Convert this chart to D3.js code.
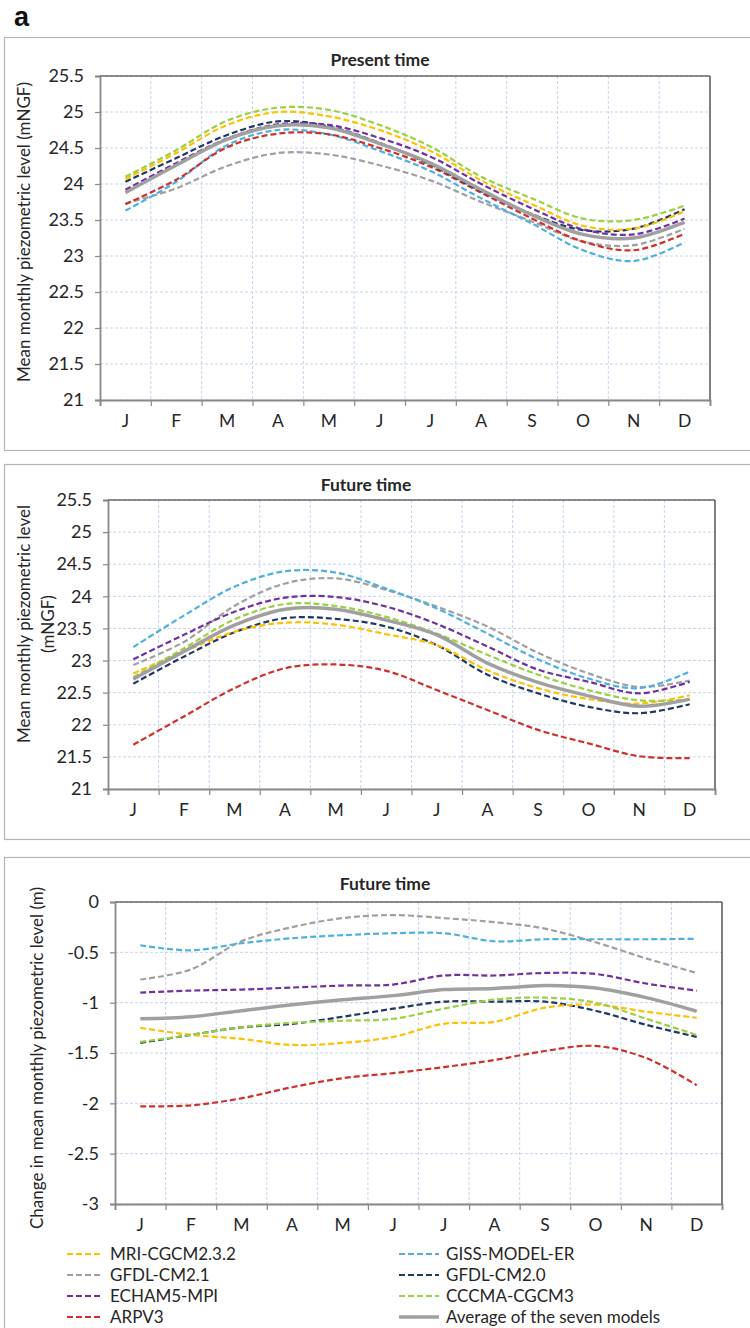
<html>
<script src='https://d3js.org/d3.v7.min.js'></script>
<style>
  body { margin: 0; background: #fff; }
  text { font-family: Lato, 'Open Sans', sans-serif; fill: #262626; }
</style>
<body>
<div id='vis'></div>
<script>
// months on the x axis
const months = ['J', 'F', 'M', 'A', 'M', 'J', 'J', 'A', 'S', 'O', 'N', 'D'];
const models = ['MRI-CGCM2.3.2', 'GISS-MODEL-ER', 'GFDL-CM2.1', 'GFDL-CM2.0', 'ECHAM5-MPI', 'CCCMA-CGCM3', 'ARPV3', 'Average of the seven models'];
const colors = ['#ffc000', '#4fb0e0', '#a0a0a0', '#1f3864', '#7030a0', '#9bd13f', '#d0302a', '#a0a0a0'];

// present time (mNGF)
const presMRI   = [24.07, 24.43, 24.82, 25.00, 24.94, 24.75, 24.46, 24.05, 23.72, 23.42, 23.38, 23.62];
const presGISS  = [23.63, 24.03, 24.54, 24.75, 24.69, 24.46, 24.18, 23.80, 23.45, 23.08, 22.93, 23.19];
const presGF21  = [23.73, 23.94, 24.25, 24.43, 24.41, 24.26, 24.05, 23.75, 23.48, 23.20, 23.15, 23.38];
const presGF20  = [24.03, 24.36, 24.68, 24.87, 24.80, 24.57, 24.27, 23.90, 23.58, 23.36, 23.38, 23.65];
const presECH   = [23.92, 24.29, 24.63, 24.83, 24.82, 24.64, 24.38, 24.00, 23.66, 23.37, 23.30, 23.52];
const presCCC   = [24.10, 24.47, 24.88, 25.06, 25.03, 24.82, 24.52, 24.10, 23.80, 23.52, 23.50, 23.70];
const presARP   = [23.72, 24.06, 24.51, 24.70, 24.69, 24.50, 24.24, 23.88, 23.52, 23.20, 23.08, 23.31];
const presAvg   = [23.88, 24.26, 24.62, 24.81, 24.78, 24.56, 24.29, 23.92, 23.57, 23.30, 23.25, 23.47];

// future time (mNGF)
const futMRI    = [22.80, 23.14, 23.45, 23.59, 23.56, 23.41, 23.24, 22.85, 22.57, 22.40, 22.33, 22.46];
const futGISS   = [23.21, 23.70, 24.15, 24.39, 24.37, 24.12, 23.81, 23.42, 23.02, 22.72, 22.57, 22.83];
const futGF21   = [22.93, 23.29, 23.85, 24.20, 24.28, 24.10, 23.84, 23.53, 23.12, 22.80, 22.59, 22.69];
const futGF20   = [22.64, 23.06, 23.44, 23.66, 23.65, 23.53, 23.24, 22.78, 22.49, 22.28, 22.18, 22.32];
const futECH    = [23.02, 23.40, 23.76, 23.98, 23.99, 23.84, 23.57, 23.22, 22.86, 22.67, 22.49, 22.67];
const futCCC    = [22.74, 23.19, 23.64, 23.88, 23.85, 23.68, 23.42, 23.09, 22.78, 22.54, 22.38, 22.39];
const futARP    = [21.69, 22.13, 22.57, 22.88, 22.94, 22.84, 22.54, 22.23, 21.92, 21.71, 21.51, 21.48];
const futAvg    = [22.71, 23.14, 23.55, 23.80, 23.80, 23.63, 23.40, 22.96, 22.66, 22.45, 22.29, 22.40];

// change future - present (m)
const chgMRI    = [-1.25, -1.32, -1.36, -1.42, -1.40, -1.34, -1.21, -1.19, -1.05, -1.02, -1.09, -1.15];
const chgGISS   = [-0.43, -0.48, -0.41, -0.36, -0.33, -0.31, -0.31, -0.39, -0.37, -0.37, -0.37, -0.365];
const chgGF21   = [-0.77, -0.67, -0.39, -0.25, -0.16, -0.13, -0.16, -0.20, -0.265, -0.40, -0.56, -0.705];
const chgGF20   = [-1.40, -1.32, -1.245, -1.21, -1.14, -1.06, -0.99, -0.99, -0.99, -1.08, -1.22, -1.34];
const chgECH    = [-0.90, -0.88, -0.87, -0.85, -0.83, -0.82, -0.73, -0.73, -0.705, -0.715, -0.81, -0.88];
const chgCCC    = [-1.39, -1.32, -1.245, -1.20, -1.18, -1.16, -1.06, -0.97, -0.95, -1.00, -1.16, -1.32];
const chgARP    = [-2.03, -2.02, -1.95, -1.84, -1.75, -1.70, -1.64, -1.57, -1.48, -1.43, -1.55, -1.82];
const chgAvg    = [-1.16, -1.14, -1.08, -1.02, -0.97, -0.93, -0.87, -0.86, -0.83, -0.855, -0.95, -1.085];

const yTicksLevel = [21, 21.5, 22, 22.5, 23, 23.5, 24, 24.5, 25, 25.5];
const yTicksChange = [-3, -2.5, -2, -1.5, -1, -0.5, 0];

const W = 750, H = 1328;
const svg = d3.select('#vis').append('svg').attr('width', W).attr('height', H);

svg.append('text').attr('x', 14).attr('y', 26)
    .style('font-family', 'Liberation Sans, Arial, sans-serif')
    .style('font-size', '27px').style('font-weight', 'bold').style('fill', '#111').text('a');

function drawPanel(p) {
    // outer frame
    svg.append('rect').attr('x', 4.5).attr('y', p.frameTop + .5).attr('width', 800).attr('height', p.frameH)
        .attr('fill', 'none').attr('stroke', '#b4b4b4').attr('stroke-width', 1.2);

    let x = d3.scaleBand().domain(d3.range(12)).range([p.left, p.right]);
    let y = d3.scaleLinear().domain(p.domain).range([p.bottom, p.top]);
    let g = svg.append('g');

    // grid
    g.selectAll('.hg').data(p.yTicks).enter().append('line')
        .attr('x1', p.left).attr('x2', p.right).attr('y1', d => y(d)).attr('y2', d => y(d))
        .attr('stroke', '#c6d4f0').attr('stroke-width', 1).attr('stroke-dasharray', '3,2');
    g.selectAll('.vg').data(d3.range(1, 12)).enter().append('line')
        .attr('x1', d => x(d)).attr('x2', d => x(d)).attr('y1', p.top).attr('y2', p.bottom)
        .attr('stroke', '#c6d4f0').attr('stroke-width', 1).attr('stroke-dasharray', '3,2');

    // frame of plot area
    g.append('line').attr('x1', p.left).attr('x2', p.right).attr('y1', p.top).attr('y2', p.top)
        .attr('stroke', '#222').attr('stroke-width', 1.2);
    g.append('line').attr('x1', p.right).attr('x2', p.right).attr('y1', p.top).attr('y2', p.bottom)
        .attr('stroke', '#555').attr('stroke-width', 1.5);

    // axes
    let yAxis = d3.axisLeft(y).tickValues(p.yTicks).tickSize(5).tickPadding(11).tickFormat(d => String(d));
    let ya = g.append('g').attr('transform', `translate(${p.left},0)`).call(yAxis);
    let xAxis = d3.axisBottom(d3.scaleLinear().domain([0, 12]).range([p.left, p.right]))
        .tickValues(d3.range(13)).tickSize(6).tickFormat('');
    let xa = g.append('g').attr('transform', `translate(0,${p.bottom})`).call(xAxis);
    [ya, xa].forEach(a => {
        a.select('.domain').attr('stroke', '#888').attr('stroke-width', 1.8);
        a.selectAll('.tick line').attr('stroke', '#888').attr('stroke-width', 1.2);
    });
    ya.selectAll('.tick text').style('font-size', '18px').style('font-family', 'Lato, sans-serif').attr('fill', '#262626');
    g.selectAll('.mlab').data(months).enter().append('text')
        .attr('x', (d, i) => x(i) + x.bandwidth() / 2).attr('y', p.bottom + 27)
        .attr('text-anchor', 'middle').style('font-size', '17.5px').text(d => d);

    // title
    g.append('text').attr('x', p.titleX).attr('y', p.titleY).attr('text-anchor', 'middle')
        .style('font-size', '17.5px').style('font-weight', 'bold').text(p.title);

    // y label
    p.ylabel.forEach((t, i) => {
        g.append('text').attr('transform', `translate(${p.ylabelX + i * 24},${p.ylabelY}) rotate(-90)`)
            .attr('text-anchor', 'middle').attr('dy', '0.35em').style('font-size', '17px').text(t);
    });

    // lines
    let line = d3.line().x((d, i) => x(i) + x.bandwidth() / 2).y(d => y(d)).curve(d3.curveCatmullRom.alpha(0.5));
    let order = [2, 1, 6, 3, 4, 0, 5, 7];
    order.forEach(k => {
        g.append('path').attr('d', line(p.series[k])).attr('fill', 'none')
            .attr('stroke', colors[k])
            .attr('stroke-width', k === 7 ? 3.5 : 2.2)
            .attr('stroke-dasharray', k === 7 ? null : '6,3');
    });
}

drawPanel({
    frameTop: 37, frameH: 413, left: 100, right: 710, top: 76, bottom: 400,
    domain: [21, 25.5], yTicks: yTicksLevel, title: 'Present time', titleX: 380, titleY: 66,
    ylabel: ['Mean monthly piezometric level (mNGF)'], ylabelX: 24, ylabelY: 232,
    series: [presMRI, presGISS, presGF21, presGF20, presECH, presCCC, presARP, presAvg]
});
drawPanel({
    frameTop: 464, frameH: 375, left: 108, right: 715, top: 500, bottom: 789,
    domain: [21, 25.5], yTicks: yTicksLevel, title: 'Future time', titleX: 366, titleY: 491,
    ylabel: ['Mean monthly piezometric level', '(mNGF)'], ylabelX: 24, ylabelY: 624,
    series: [futMRI, futGISS, futGF21, futGF20, futECH, futCCC, futARP, futAvg]
});
drawPanel({
    frameTop: 857, frameH: 600, left: 115, right: 722, top: 902, bottom: 1204,
    domain: [-3, 0], yTicks: yTicksChange, title: 'Future time', titleX: 385, titleY: 890,
    ylabel: ['Change in mean monthly piezometric level (m)'], ylabelX: 37, ylabelY: 1058,
    series: [chgMRI, chgGISS, chgGF21, chgGF20, chgECH, chgCCC, chgARP, chgAvg]
});

// legend
const legendOrder = [0, 2, 4, 6, 1, 3, 5, 7];
let lg = svg.append('g');
legendOrder.forEach((k, i) => {
    let col = Math.floor(i / 4), row = i % 4;
    let lx = col === 0 ? 67 : 399, lw = col === 0 ? 36 : 40;
    let ly = 1254 + row * 21;
    lg.append('line').attr('x1', lx).attr('x2', lx + lw).attr('y1', ly).attr('y2', ly)
        .attr('stroke', colors[k]).attr('stroke-width', k === 7 ? 3.5 : 2.2)
        .attr('stroke-dasharray', k === 7 ? null : '6,3');
    lg.append('text').attr('x', lx + lw + 7).attr('y', ly).attr('dy', '0.35em')
        .style('font-size', '17px').text(models[k]);
});
</script>
</body>
</html>
